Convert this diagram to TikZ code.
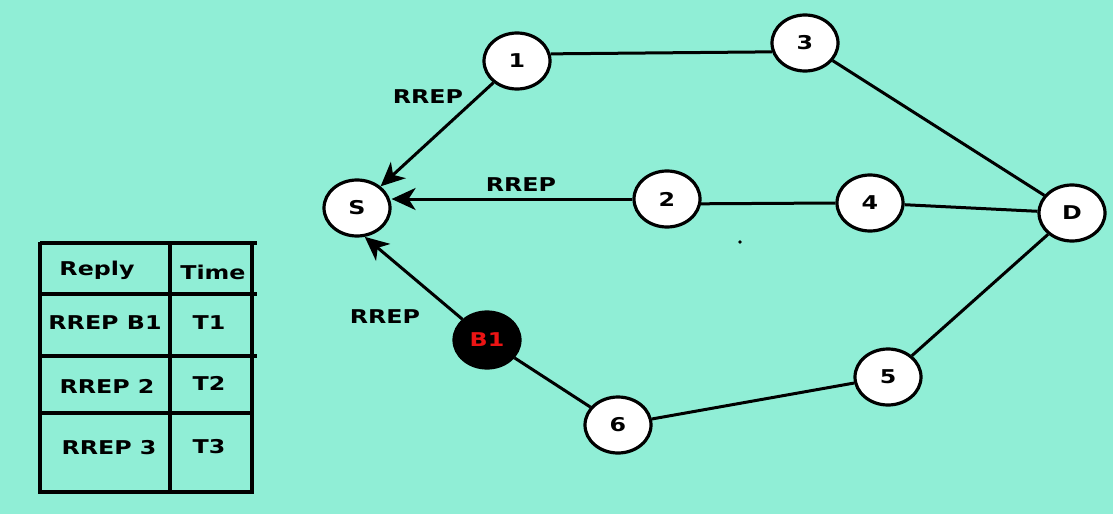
\documentclass[tikz,border=0pt]{standalone}
\usepackage{fontspec}
\setmainfont{DejaVu Sans}
\usetikzlibrary{shapes.geometric,arrows.meta}

\definecolor{mint}{RGB}{144,238,214}
\definecolor{bred}{RGB}{235,20,20}
\newcommand{\wtxt}[1]{\scalebox{1.25}[1]{\bfseries #1}}

\tikzset{
  host/.style={ellipse, draw, line width=3.2pt, fill=white, minimum width=66pt,
               minimum height=56pt, inner sep=0pt, font=\fontsize{19}{19}\selectfont},
  link/.style={line width=3pt},
  reply/.style={line width=3pt, -{Stealth[length=24pt,width=22pt,inset=7pt]}},
  lbl/.style={inner sep=0pt, font=\fontsize{19}{19}\selectfont},
  grid/.style={line width=3.4pt},
}

\begin{document}
\begin{tikzpicture}[x=1pt,y=-1pt]

    % Background
    % ----------
    \fill[mint] (0,0) rectangle (1113,514);
    \useasboundingbox (0,0) rectangle (1113,514);

    % Nodes
    % -----
    \node[host] (s)  at (357,208) {\wtxt{S}};
    \node[host] (n1) at (517, 61) {\wtxt{1}};
    \node[host] (n3) at (805, 43) {\wtxt{3}};
    \node[host] (n2) at (667,199) {\wtxt{2}};
    \node[host] (n4) at (870,203) {\wtxt{4}};
    \node[host] (d)  at (1072,213) {\wtxt{D}};
    \node[host] (n5) at (888,377) {\wtxt{5}};
    \node[host] (n6) at (618,425) {\wtxt{6}};
    \node[host, fill=black, text=bred] (b1) at (487,340) {\wtxt{B1}};

    % Links
    % -----
    \draw[link] (n1.12) -- (n3.195);
    \draw[link] (n3) -- (d);
    \draw[link] (n2.-8) -- (n4.west);
    \draw[link] (n4) -- (d);
    \draw[link] (d) -- (n5);
    \draw[link] (n5) -- (n6);
    \draw[link] (n6) -- (b1);

    % Replies
    % -------
    \draw[reply] (n1) -- (s);
    \draw[reply] (n2.west) -- (s.east |- n2.west);
    \draw[reply] (b1) -- (s.-75);

    \node[lbl] (r1) at (428, 97) {\wtxt{RREP}};
    \node[lbl] (r2) at (521,185) {\wtxt{RREP}};
    \node[lbl] (r3) at (385,317) {\wtxt{RREP}};
    \fill (740,242) circle (1.8pt);

    % Table
    % -----
    \draw[grid] (40,242) -- (40,494);
    \draw[grid] (170,242) -- (170,494);
    \draw[grid] (252,242) -- (252,494);
    \draw[grid] (40,243) -- (257,243);
    \draw[grid] (40,294) -- (257,294);
    \draw[grid] (40,356) -- (257,356);
    \draw[grid] (40,413) -- (252,413);
    \draw[grid] (40,492) -- (252,492);

    \node[lbl] (h1) at ( 97,270) {\wtxt{Reply}};
    \node[lbl] (h2) at (213,272) {\wtxt{Time}};
    \node[lbl] (a1) at (105,323) {\wtxt{RREP B1}};
    \node[lbl] (t1) at (209,323) {\wtxt{T1}};
    \node[lbl] (a2) at (107,386) {\wtxt{RREP 2}};
    \node[lbl] (t2) at (209,383) {\wtxt{T2}};
    \node[lbl] (a3) at (109,448) {\wtxt{RREP 3}};
    \node[lbl] (t3) at (209,447) {\wtxt{T3}};

\end{tikzpicture}
\end{document}
